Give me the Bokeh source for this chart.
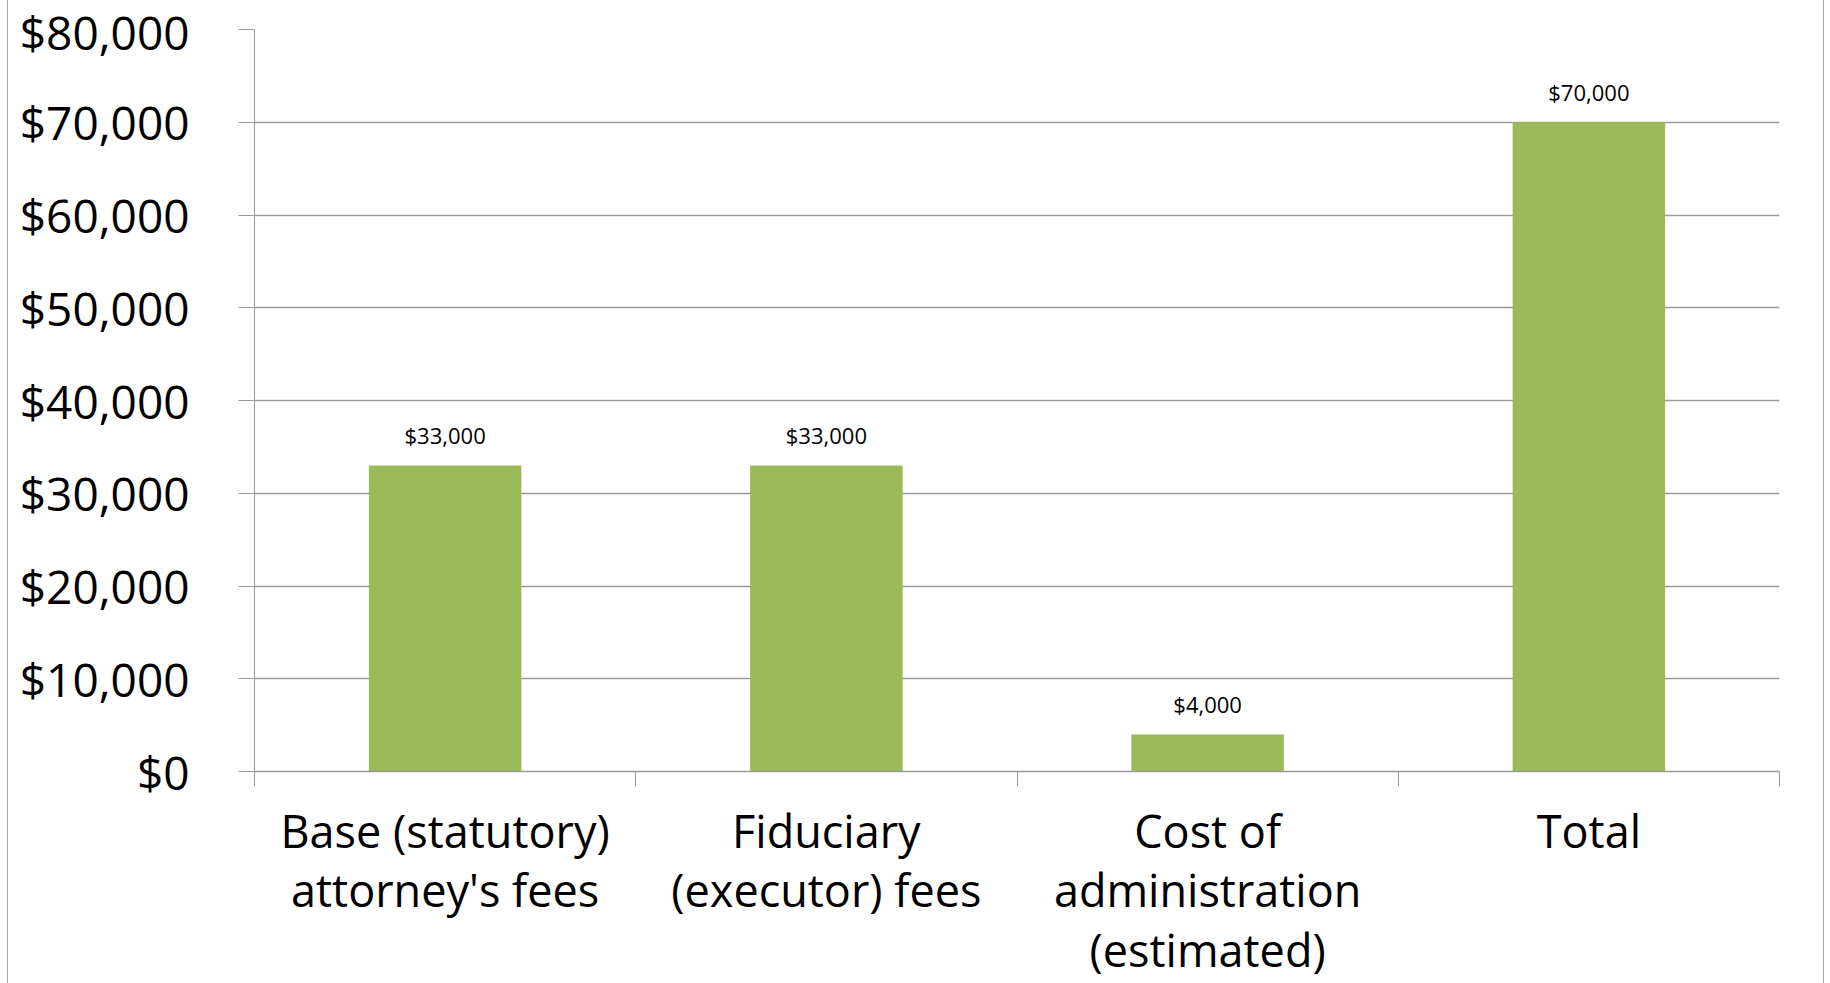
from bokeh.plotting import figure
from bokeh.models import ColumnDataSource, Range1d, FixedTicker, NumeralTickFormatter
from bokeh.core.properties import value
from bokeh.embed import file_html
from bokeh.resources import INLINE

# ---- data ----
categories = [
    "Base (statutory)\nattorney's fees",
    "Fiduciary\n(executor) fees",
    "Cost of\nadministration\n(estimated)",
    "Total",
]
amounts = [33000, 33000, 4000, 70000]
amount_labels = ["$33,000", "$33,000", "$4,000", "$70,000"]
y_ticks = [0, 10000, 20000, 30000, 40000, 50000, 60000, 70000, 80000]

FONT = "Open Sans"
GREEN = "#9BBB59"
GRAY = "#9A9A9A"

centers = [i + 0.5 for i in range(len(categories))]
src = ColumnDataSource(dict(x=centers, top=amounts, lab=amount_labels))

p = figure(width=1815, height=983, output_backend="svg", toolbar_location=None,
           x_range=Range1d(0, len(categories)), y_range=Range1d(0, 80000),
           min_border_left=246, min_border_right=44, min_border_top=29,
           min_border_bottom=212, margin=(0, 0, 0, 8))
p.styles = {"box-shadow": "0 0 0 1px #A6A6A6"}
p.outline_line_color = None
p.background_fill_color = "white"
p.border_fill_color = "white"

p.vbar(x="x", top="top", width=0.4, source=src, fill_color=GREEN, line_color=None)
p.text(x="x", y="top", text="lab", source=src, text_align="center",
       text_baseline="middle", y_offset=-30, text_font=value(FONT),
       text_font_size="22px", text_color="#000000")

# y axis
yax = p.yaxis[0]
yax.ticker = FixedTicker(ticks=y_ticks)
yax.formatter = NumeralTickFormatter(format="$0,0")
yax.major_label_text_font = FONT
yax.major_label_text_font_size = "46px"
yax.major_label_text_color = "#000000"
yax.major_tick_out = 16
yax.major_tick_in = 0
yax.minor_tick_out = 0
yax.minor_tick_in = 0
yax.major_tick_line_color = GRAY
yax.axis_line_color = GRAY
yax.major_label_standoff = 49

p.ygrid.ticker = FixedTicker(ticks=y_ticks)
p.ygrid.grid_line_color = GRAY
p.ygrid.grid_line_width = 1.5
p.xgrid.grid_line_color = None

# x axis
xax = p.xaxis[0]
xax.ticker = FixedTicker(ticks=centers, minor_ticks=list(range(len(categories) + 1)))
xax.major_label_overrides = {c: lab for c, lab in zip(centers, categories)}
xax.major_label_text_font = FONT
xax.major_label_text_font_size = "45px"
xax.major_label_text_line_height = 0.98
xax.major_label_text_color = "#000000"
xax.major_tick_out = 0
xax.major_tick_in = 0
xax.minor_tick_out = 15
xax.minor_tick_in = 0
xax.minor_tick_line_color = GRAY
xax.axis_line_color = GRAY
xax.axis_line_width = 1.5
xax.major_label_standoff = 13

open("out.html", "w").write(file_html(p, INLINE))
